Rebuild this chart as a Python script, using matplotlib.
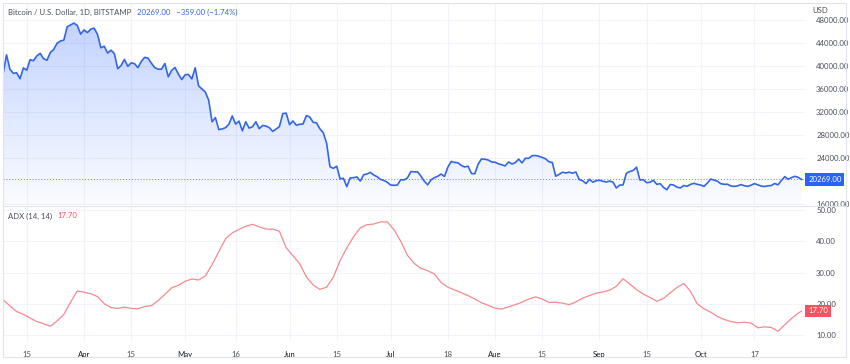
import numpy as np
import pandas as pd
import matplotlib
matplotlib.use("Agg")
import matplotlib.pyplot as plt
import matplotlib.dates as mdates
from matplotlib.patches import Rectangle

plt.rcParams["font.family"] = ["Lato", "DejaVu Sans"]

# ── data ──────────────────────────────────────────────────────────────
start_date = "2022-03-08"
end_date = "2022-10-31"

# daily close, Mar 8 .. Oct 31 (BTC/USD, Bitstamp)
btc_close = [
    38730, 41940, 39440, 38730, 38810, 37780, 39670, 39280, 41110, 40920,
    41760, 42200, 41260, 41000, 42360, 42890, 43960, 44350, 44500, 46820,
    47130, 47460, 47060, 45540,
    46280, 45810, 46410, 46580, 45500, 43170, 43440, 42250, 42750, 42160,
    39530, 40070, 41150, 39940, 40550, 40400, 39710, 40800, 41500, 41370,
    40480, 39710, 39450, 39450, 40430, 38120, 39240, 39740, 38600, 37640,
    38470, 38530, 37750, 39690, 36550, 36010, 35470, 34060, 30300, 31020,
    28940, 29050, 29280, 29870, 31310, 29900, 30420, 28720, 30300, 29200,
    29430, 30300, 29100, 29650, 29560, 29270, 28630, 29030, 29470, 31730,
    31800,
    29800, 30450, 29700, 29860, 29910, 31370, 31130, 30210, 30110, 29080,
    28420, 26570, 22490, 22200, 22580, 20380, 20470, 19010, 20550, 20580,
    20710, 19990, 21080, 21230, 21490, 21040, 20740, 20280, 20100, 19780,
    19300, 19250, 19300, 20230, 20190, 20550, 21630, 21590, 21590, 20850,
    19960, 19330, 20210, 20580, 20830, 21200, 20790, 22420, 23400, 23230,
    23160, 22690, 22450, 22580, 21310, 21250, 22950, 23850, 23780, 23650,
    23300,
    23270, 22990, 22820, 22620, 23310, 22960, 23180, 23810, 23150, 23950,
    23940, 24400, 24440, 24300, 24100, 23860, 23340, 23210, 20830, 21140,
    21520, 21400, 21530, 21370, 21560, 20240, 20040, 19550, 20290, 19800,
    20050,
    20130, 19950, 19830, 19990, 19800, 18790, 19290, 19320, 21360, 21650,
    21830, 22400, 20170, 20230, 19700, 19800, 20110, 19420, 19540, 18880,
    18480, 19400, 19300, 18930, 18800, 19220, 19080, 19410, 19590, 19420,
    19310, 19060, 19630, 20340, 20160, 19960, 19530, 19420, 19440, 19130,
    19060, 19160, 19380, 19180, 19070, 19270, 19550, 19330, 19120, 19040,
    19170, 19210, 19570, 19330, 20090, 20770, 20290, 20600, 20810, 20630,
    20269,
]

# ADX(14, 14), read every second day from Mar 8, plus the last bar
adx_values = [
    21.3, 19.3, 17.5, 16.6, 15.4, 14.3, 13.6, 12.8, 14.5, 16.6,
    20.5, 24.1, 23.7, 23.2, 22.3, 20.0, 18.8, 18.5, 18.9, 18.5,
    18.4, 19.1, 19.4, 21.0, 23.0, 25.1, 25.9, 27.2, 27.9, 27.6,
    28.9, 32.5, 36.6, 40.8, 42.7, 43.8, 44.8, 45.4, 44.6, 43.9,
    43.9, 43.2, 37.9, 35.4, 32.8, 28.6, 26.0, 24.6, 25.3, 28.5,
    33.8, 37.9, 41.4, 44.3, 45.3, 45.5, 46.2, 46.2, 43.7, 40.0,
    35.5, 32.9, 31.3, 30.6, 29.5, 26.8, 25.3, 24.4, 23.5, 22.6,
    21.5, 20.3, 19.5, 18.6, 18.3, 19.0, 19.7, 20.5, 21.5, 22.2,
    21.5, 20.4, 20.5, 20.2, 19.7, 20.6, 21.8, 22.6, 23.4, 23.8,
    24.3, 25.6, 28.0, 26.3, 24.5, 23.1, 22.0, 20.8, 21.7, 23.5,
    25.2, 26.5, 24.0, 20.0, 18.4, 17.3, 15.9, 15.0, 14.3, 13.9,
    14.1, 13.8, 12.3, 12.6, 12.4, 11.2, 13.3, 15.3, 17.0, 17.70,
]

last_price = 20269.00
price_change = -359.00
price_change_pct = -1.74
last_adx = 17.70

price_ticks = [16000, 24000, 28000, 32000, 36000, 40000, 44000, 48000]
adx_ticks = [10, 20, 30, 40, 50]
tick_dates = ["2022-03-15", "2022-04-01", "2022-04-15", "2022-05-01",
              "2022-05-16", "2022-06-01", "2022-06-15", "2022-07-01",
              "2022-07-18", "2022-08-01", "2022-08-15", "2022-09-01",
              "2022-09-15", "2022-10-01", "2022-10-17"]
tick_labels = ["15", "Apr", "15", "May", "16", "Jun", "15", "Jul",
               "18", "Aug", "15", "Sep", "15", "Oct", "17"]

# ── styling ───────────────────────────────────────────────────────────
BLUE = "#3366e6"
RED = "#f7525f"
ADX_LINE = "#f58a8f"
GRID = "#f0f3fa"
TXT = "#4a4e59"
FS = 5.6

W, H = 850, 364
fig = plt.figure(figsize=(W / 100, H / 100), dpi=100)
fig.patch.set_facecolor("white")


def px_axes(x0, y0, x1, y1):
    return fig.add_axes([x0 / W, 1 - y1 / H, (x1 - x0) / W, (y1 - y0) / H])


dates = pd.date_range(start_date, end_date, freq="D")
adx_dates = list(pd.date_range(start_date, end_date, freq="2D")) + [pd.Timestamp(end_date)]
price = np.array(btc_close, dtype=float)
xnum = mdates.date2num(dates)
x_left = xnum[0] - 0.05
x_right = xnum[0] + 238.0

ax1 = px_axes(3, 4, 805, 205)
ax2 = px_axes(3, 207, 805, 341)

for ax in (ax1, ax2):
    ax.set_facecolor("white")
    for s in ax.spines.values():
        s.set_visible(False)
    ax.set_xlim(x_left, x_right)
    ax.set_xticks(mdates.date2num(pd.to_datetime(tick_dates)))
    ax.yaxis.tick_right()
    ax.tick_params(axis="both", length=0, labelsize=FS, labelcolor=TXT)
    ax.grid(True, color=GRID, lw=0.8)
    ax.set_axisbelow(True)

# ── price panel ───────────────────────────────────────────────────────
ymin, ymax = 15826, 50783
ax1.set_ylim(ymin, ymax)
ax1.set_yticks(price_ticks)
ax1.set_yticklabels([f"{v:.2f}" for v in price_ticks])
ax1.tick_params(axis="y", pad=8)
ax1.set_xticklabels([])

poly = ax1.fill_between(xnum, price, ymin, color="none", lw=0)
grad = np.zeros((256, 1, 4))
grad[:, 0, 0] = 41 / 255
grad[:, 0, 1] = 98 / 255
grad[:, 0, 2] = 255 / 255
grad[:, 0, 3] = np.linspace(0.28, 0.02, 256)
img = ax1.imshow(grad, aspect="auto", origin="upper",
                 extent=[x_left, x_right, ymin, 47500], zorder=1)
img.set_clip_path(poly.get_paths()[0], transform=ax1.transData)
ax1.set_xlim(x_left, x_right)
ax1.set_ylim(ymin, ymax)

ax1.plot(xnum, price, color=BLUE, lw=1.2, zorder=3)
ax1.axhline(last_price, color=BLUE, lw=0.7, ls=(0, (1, 2)), alpha=0.8, zorder=2)
ax1.text(1.004, last_price, f"{last_price:.2f}", transform=ax1.get_yaxis_transform(),
         ha="left", va="center", fontsize=FS, color="white",
         bbox=dict(boxstyle="square,pad=0.35", fc="#2962ff", ec="none"))
ax1.text(1.009, 0.985, "USD", transform=ax1.transAxes, ha="left", va="top",
         fontsize=FS, color=TXT)

t1 = fig.text(8 / W, 1 - 12 / H, "Bitcoin / U.S. Dollar, 1D, BITSTAMP",
              fontsize=5.6, color=TXT, va="center")
fig.text(0, 0, "")
ax1.annotate(f"{last_price:.2f}   \u2212{abs(price_change):.2f} (\u2212{abs(price_change_pct):.2f}%)",
             xy=(1, 0.5), xycoords=t1, xytext=(4, 0), textcoords="offset points",
             fontsize=5.6, color=BLUE, va="center", ha="left")

# ── ADX panel ─────────────────────────────────────────────────────────
ax2.set_ylim(8.08, 50.96)
ax2.set_yticks(adx_ticks)
ax2.set_yticklabels([f"{v:.2f}" for v in adx_ticks])
ax2.tick_params(axis="y", pad=8)
ax2.plot(mdates.date2num(adx_dates), adx_values, color=ADX_LINE, lw=0.9)
ax2.set_xticklabels(tick_labels)
ax2.tick_params(axis="x", pad=7)
for lab in ax2.get_xticklabels():
    if not lab.get_text().isdigit():
        lab.set_color("#131722")
ax2.text(1.004, last_adx, f"{last_adx:.2f}", transform=ax2.get_yaxis_transform(),
         ha="left", va="center", fontsize=FS, color="white",
         bbox=dict(boxstyle="square,pad=0.35", fc=RED, ec="none"))

t2 = fig.text(8 / W, 1 - 216 / H, "ADX (14, 14)", fontsize=5.6, color=TXT, va="center")
ax2.annotate(f"{last_adx:.2f}", xy=(1, 0.5), xycoords=t2, xytext=(4, 0),
             textcoords="offset points", fontsize=5.6, color=RED, va="center", ha="left")

# panel separator and outer frame
fig.add_artist(plt.Line2D([3 / W, 846 / W], [1 - 206 / H, 1 - 206 / H],
                          color="#e0e3eb", lw=0.8))
fig.add_artist(Rectangle((3 / W, 1 - 357 / H), 843 / W, 354 / H, fill=False,
                         ec="#e0e3eb", lw=0.8, transform=fig.transFigure))

fig.savefig("out.png", dpi=100)
plt.close(fig)
